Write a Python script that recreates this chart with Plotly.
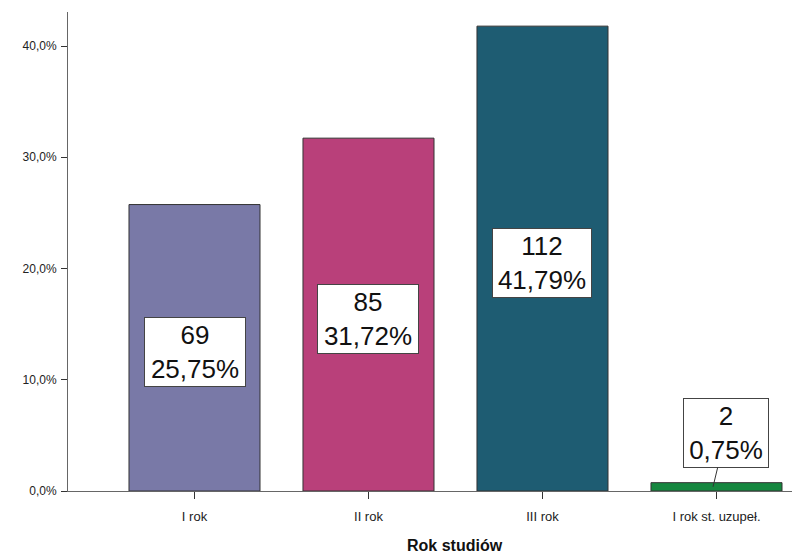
import plotly.graph_objects as go

categories = ["I rok", "II rok", "III rok", "I rok st. uzupeł."]
counts = [69, 85, 112, 2]
percents = [25.75, 31.72, 41.79, 0.75]
colors = ["#7979a7", "#b9407a", "#1e5c72", "#15873f"]
ytick_vals = [0, 10, 20, 30, 40]
ytick_text = ["0,0%", "10,0%", "20,0%", "30,0%", "40,0%"]

fig = go.Figure()
fig.add_trace(go.Bar(
    x=list(range(len(categories))), y=percents,
    marker=dict(color=colors, line=dict(color="#333333", width=1)),
    width=0.753, hoverinfo="skip",
))

def fmt(p):
    return f"{p:.2f}".replace(".", ",") + "%"

for i, (c, p) in enumerate(zip(counts, percents)):
    txt = f"{c}<br>{fmt(p)}"
    common = dict(text=txt, font=dict(family="Liberation Sans, Arial", size=26, color="#111"),
                  bgcolor="white", bordercolor="#444", borderwidth=1, borderpad=2,
                  xref="x", yref="y")
    if p > 5:
        fig.add_annotation(x=i, y=p / 2, showarrow=False, yshift=-4, width=96 if c < 100 else 94, **common)
    else:
        fig.add_annotation(x=i - 0.02, y=p / 2, showarrow=True, arrowhead=0, width=80,
                           arrowwidth=1, arrowcolor="#333", ax=13, ay=-54, **common)

fig.add_annotation(x=1.5, xref="x", y=-0.113, yref="paper", yanchor="middle",
                   text="<b>Rok studiów</b>", showarrow=False,
                   font=dict(family="Liberation Sans, Arial", size=16, color="#111"))

fig.update_layout(
    width=792, height=554,
    margin=dict(l=68, r=0, t=12, b=63),
    plot_bgcolor="white", paper_bgcolor="white",
    showlegend=False,
    xaxis=dict(range=[-0.727, 3.434], tickvals=list(range(len(categories))),
               ticktext=categories, showgrid=False, zeroline=False, automargin=False,
               showline=True, linecolor="#666", linewidth=1,
               ticks="outside", ticklen=7, tickcolor="#333", ticklabelstandoff=6,
               tickfont=dict(family="Liberation Sans Narrow, Liberation Sans, Arial", size=13, color="#222")),
    yaxis=dict(range=[0, 43.06], tickvals=ytick_vals, ticktext=ytick_text, automargin=False,
               showgrid=False, zeroline=False, showline=True, linecolor="#666",
               linewidth=1, ticks="outside", ticklen=6, tickcolor="#333", ticklabelstandoff=2,
               tickfont=dict(family="Liberation Sans, Arial", size=12, color="#222")),
)
fig.write_html("out.html", config={"displayModeBar": False},
               post_script="document.body.style.margin='0';document.body.style.overflow='hidden';")
